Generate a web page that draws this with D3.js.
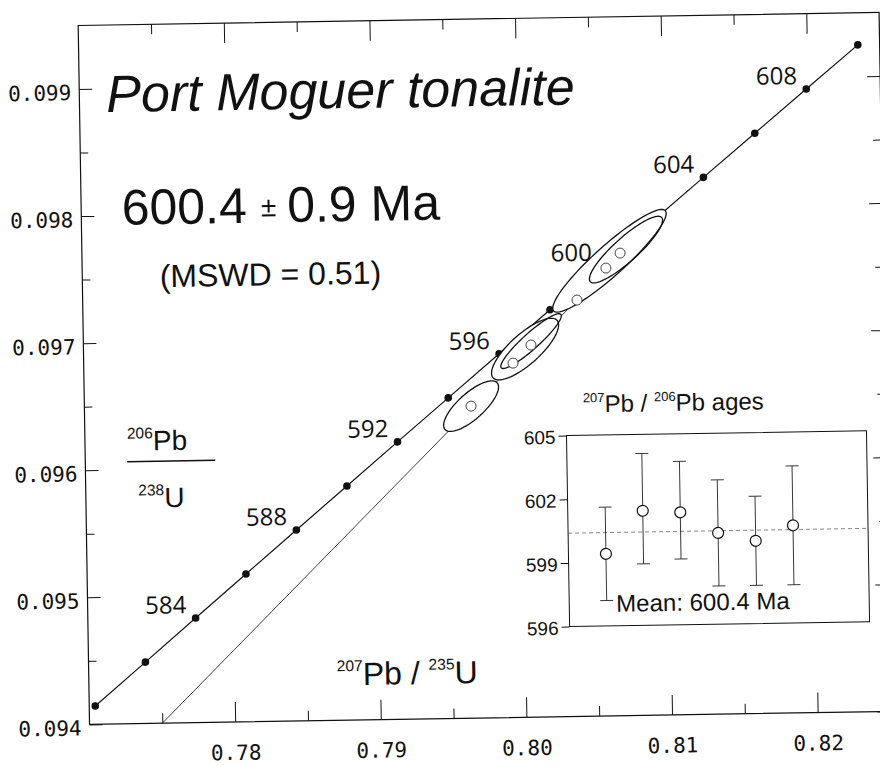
<!DOCTYPE html>
<html>
<head>
<meta charset="utf-8">
<script src="https://cdn.jsdelivr.net/npm/d3@7"></script>
<style>
  body { margin: 0; background: #fff; }
  svg { display: block; background: #fff; }
  .sans { font-family: "Liberation Sans", Arial, sans-serif; fill: #111; }
  .age { font-family: "Open Sans", sans-serif; font-size: 24px; fill: #111; }
</style>
</head>
<body>
<svg id="chart" width="880" height="766"></svg>
<script>
// concordia ages (Ma) and ratios at each dot
var ages = [580, 582, 584, 586, 588, 590, 592, 594, 596, 598, 600, 602, 604, 606, 608, 610];
var concordiaX = [0.770414, 0.773905, 0.777400, 0.780905, 0.784416, 0.787936, 0.791459, 0.794991,
                  0.798532, 0.802076, 0.805630, 0.809191, 0.812756, 0.816332, 0.819913, 0.823504];
var concordiaY = [0.094144, 0.094483, 0.094823, 0.095163, 0.095503, 0.095843, 0.096183, 0.096523,
                  0.096863, 0.097203, 0.097544, 0.097884, 0.098225, 0.098566, 0.098907, 0.099248];
var ageLabels = [584, 588, 592, 596, 600, 604, 608];

// analyses (centres)
var pointX = [0.79655, 0.79948, 0.80073, 0.80394, 0.80596, 0.80695];
var pointY = [0.096455, 0.096788, 0.096928, 0.097276, 0.097524, 0.097640];

// error ellipses: centre, sigma x, sigma y, correlation
var ellX   = [0.79655, 0.80032, 0.80074, 0.806214, 0.80736];
var ellY   = [0.096455, 0.096897, 0.096959, 0.097581, 0.097667];
var ellSx  = [0.001907, 0.002329, 0.002104, 0.003946, 0.002545];
var ellSy  = [0.0001964, 0.0002391, 0.000212, 0.0003971, 0.0002579];
var ellRho = [0.755, 0.780, 0.922, 0.922, 0.881];

// chord towards the origin
var chordX = [0.775, 0.8060];
var chordY = [0.094, 0.09751];

// inset: 207Pb/206Pb ages
var grainAge  = [599.4, 601.4, 601.3, 600.3, 599.9, 600.6];
var grainHigh = [601.6, 604.1, 603.7, 602.8, 602.0, 603.4];
var grainLow  = [597.2, 598.9, 599.1, 597.8, 597.8, 597.8];
var meanAge = 600.4;

// ticks
var xMajor = [0.78, 0.79, 0.80, 0.81, 0.82];
var xMinor = [0.775, 0.785, 0.795, 0.805, 0.815];
var yMajor = [0.094, 0.095, 0.096, 0.097, 0.098, 0.099];
var yMinor = [0.0945, 0.0955, 0.0965, 0.0975, 0.0985];
var insetTicks = [596, 599, 602, 605];

var svg = d3.select("#chart");
svg.append("rect").attr("width", 880).attr("height", 766).attr("fill", "#fff");

// the scanned figure sits slightly tilted
var g = svg.append("g").attr("transform", "rotate(-0.93 480 380)");

// (window.top is taken, hence the prefix)
var plotLeft = 84, plotRight = 885, plotTop = 19, plotBottom = 718;
var x = d3.scaleLinear().domain([0.770, 0.825]).range([plotLeft, plotRight]);
var y = d3.scaleLinear().domain([0.094, 0.0995]).range([plotBottom, plotTop]);

function styleAxis(sel, labels) {
  sel.select(".domain").remove();
  sel.selectAll(".tick line").attr("stroke", "#111").attr("stroke-width", 1);
  sel.attr("font-family", "'DejaVu Sans Mono', monospace").attr("font-size", 21);
  sel.selectAll(".tick text").attr("fill", "#111");
  if (!labels) sel.selectAll(".tick text").remove();
}

g.append("g").attr("transform", "translate(0," + plotBottom + ")")
  .call(d3.axisBottom(x).tickValues(xMajor).tickSize(-20).tickPadding(23).tickFormat(d3.format(".2f")))
  .call(styleAxis, true);
g.append("g").attr("transform", "translate(0," + plotBottom + ")")
  .call(d3.axisBottom(x).tickValues(xMinor).tickSize(-10))
  .call(styleAxis, false);
g.append("g").attr("transform", "translate(0," + plotTop + ")")
  .call(d3.axisTop(x).tickValues(xMajor).tickSize(-20))
  .call(styleAxis, false);
g.append("g").attr("transform", "translate(0," + plotTop + ")")
  .call(d3.axisTop(x).tickValues(xMinor).tickSize(-10))
  .call(styleAxis, false);

var yAxisLeft = g.append("g").attr("transform", "translate(" + plotLeft + ",0)")
  .call(d3.axisLeft(y).tickValues(yMajor).tickSize(-13).tickPadding(8).tickFormat(d3.format(".3f")))
  .call(styleAxis, true);
yAxisLeft.selectAll(".tick text").attr("dy", "0.5em");
g.append("g").attr("transform", "translate(" + plotLeft + ",0)")
  .call(d3.axisLeft(y).tickValues(yMinor).tickSize(-8))
  .call(styleAxis, false);
g.append("g").attr("transform", "translate(" + plotRight + ",0)")
  .call(d3.axisRight(y).tickValues(yMajor).tickSize(-13))
  .call(styleAxis, false);
g.append("g").attr("transform", "translate(" + plotRight + ",0)")
  .call(d3.axisRight(y).tickValues(yMinor).tickSize(-8))
  .call(styleAxis, false);

g.append("rect")
  .attr("x", plotLeft).attr("y", plotTop)
  .attr("width", plotRight - plotLeft).attr("height", plotBottom - plotTop)
  .attr("fill", "none").attr("stroke", "#111").attr("stroke-width", 1.2);

// chord and concordia
g.append("line")
  .attr("x1", x(chordX[0])).attr("y1", y(chordY[0]))
  .attr("x2", x(chordX[1])).attr("y2", y(chordY[1]))
  .attr("stroke", "#111").attr("stroke-width", 0.8);

var concordia = ages.map(function(a, i) { return [concordiaX[i], concordiaY[i]]; });
g.append("path")
  .datum(concordia)
  .attr("d", d3.line().x(function(d) { return x(d[0]); }).y(function(d) { return y(d[1]); }))
  .attr("fill", "none").attr("stroke", "#111").attr("stroke-width", 1.2);

g.selectAll(".dot").data(concordia).enter().append("circle")
  .attr("class", "dot")
  .attr("cx", function(d) { return x(d[0]); })
  .attr("cy", function(d) { return y(d[1]); })
  .attr("r", 3.8).attr("fill", "#111");

// error ellipses, white filled so they hide what runs under them
function ellipsePoints(i) {
  var pts = [];
  var k = Math.sqrt(1 - ellRho[i] * ellRho[i]);
  for (var j = 0; j < 90; j++) {
    var t = j / 90 * 2 * Math.PI;
    pts.push([
      x(ellX[i] + ellSx[i] * Math.cos(t)),
      y(ellY[i] + ellSy[i] * (ellRho[i] * Math.cos(t) + k * Math.sin(t)))
    ]);
  }
  return pts;
}
var ellLine = d3.line().curve(d3.curveLinearClosed);
var ellData = ellX.map(function(d, i) { return ellipsePoints(i); });

g.selectAll(".ell-fill").data(ellData).enter().append("path")
  .attr("class", "ell-fill")
  .attr("d", ellLine)
  .attr("fill", "#fff").attr("stroke", "none");

g.selectAll(".ell").data(ellData).enter().append("path")
  .attr("class", "ell")
  .attr("d", ellLine)
  .attr("fill", "none").attr("stroke", "#111").attr("stroke-width", 1.3);

g.selectAll(".pt").data(pointX).enter().append("circle")
  .attr("class", "pt")
  .attr("cx", function(d) { return x(d); })
  .attr("cy", function(d, i) { return y(pointY[i]); })
  .attr("r", 5).attr("fill", "#fff").attr("stroke", "#333").attr("stroke-width", 0.9);

g.selectAll(".age").data(ageLabels).enter().append("text")
  .attr("class", "age")
  .attr("text-anchor", "end")
  .attr("x", function(a) { return x(concordiaX[ages.indexOf(a)]) - 9; })
  .attr("y", function(a) { return y(concordiaY[ages.indexOf(a)]) - 5; })
  .text(function(a) { return a; });

// titles
g.append("text").attr("class", "sans")
  .attr("x", 111).attr("y", 106)
  .attr("font-size", 52).attr("font-style", "italic")
  .text("Port Moguer tonalite");

var ageText = g.append("text").attr("class", "sans")
  .attr("x", 124.5).attr("y", 219).attr("font-size", 50);
ageText.append("tspan").text("600.4");
ageText.append("tspan").attr("dx", 14).attr("dy", -6).attr("font-size", 28).text("±");
ageText.append("tspan").attr("dx", 11).attr("dy", 6).text("0.9 Ma");

g.append("text").attr("class", "sans")
  .attr("x", 161.5).attr("y", 282).attr("font-size", 32)
  .text("(MSWD = 0.51)");

// y axis label as a fraction
var yNum = g.append("text").attr("class", "sans").attr("x", 126).attr("y", 445).attr("font-size", 28);
yNum.append("tspan").attr("font-size", 15.5).attr("dy", -12).text("206");
yNum.append("tspan").attr("dy", 12).text("Pb");
g.append("line")
  .attr("x1", 126).attr("x2", 214).attr("y1", 456).attr("y2", 456)
  .attr("stroke", "#111").attr("stroke-width", 1.6);
var yDen = g.append("text").attr("class", "sans").attr("x", 136.5).attr("y", 502).attr("font-size", 28);
yDen.append("tspan").attr("font-size", 15.5).attr("dy", -12).text("238");
yDen.append("tspan").attr("dy", 12).text("U");

// x axis label
var xLab = g.append("text").attr("class", "sans").attr("x", 332).attr("y", 683).attr("font-size", 32);
xLab.append("tspan").attr("font-size", 15.6).attr("dy", -14).text("207");
xLab.append("tspan").attr("dy", 14).text("Pb / ");
xLab.append("tspan").attr("font-size", 15.6).attr("dy", -14).text("235");
xLab.append("tspan").attr("dy", 14).text("U");

// inset
var ix = d3.scaleLinear().domain([0, 8]).range([565.6, 865.6]);
var iy = d3.scaleLinear().domain([596, 605]).range([628, 437]);

var inset = g.append("g");
inset.append("rect")
  .attr("x", ix(0)).attr("y", iy(605))
  .attr("width", ix(8) - ix(0)).attr("height", iy(596) - iy(605))
  .attr("fill", "#fff").attr("stroke", "#111").attr("stroke-width", 1);

var insetAxis = inset.append("g").attr("transform", "translate(" + ix(0) + ",0)")
  .call(d3.axisLeft(iy).tickValues(insetTicks).tickSize(8).tickPadding(3));
insetAxis.select(".domain").remove();
insetAxis.attr("font-family", "'Liberation Sans', Arial, sans-serif").attr("font-size", 19);
insetAxis.selectAll(".tick line").attr("stroke", "#111");
insetAxis.selectAll(".tick text").attr("fill", "#111").attr("dy", "0.4em");

inset.append("line")
  .attr("x1", ix(0)).attr("x2", ix(8))
  .attr("y1", iy(meanAge)).attr("y2", iy(meanAge))
  .attr("stroke", "#666").attr("stroke-width", 0.8).attr("stroke-dasharray", "4,3");

var bars = inset.selectAll(".bar").data(grainAge).enter().append("g").attr("class", "bar");
bars.append("line")
  .attr("x1", function(d, i) { return ix(i + 1); })
  .attr("x2", function(d, i) { return ix(i + 1); })
  .attr("y1", function(d, i) { return iy(grainLow[i]); })
  .attr("y2", function(d, i) { return iy(grainHigh[i]); })
  .attr("stroke", "#222").attr("stroke-width", 0.9);
bars.append("line")
  .attr("x1", function(d, i) { return ix(i + 1) - 6.5; })
  .attr("x2", function(d, i) { return ix(i + 1) + 6.5; })
  .attr("y1", function(d, i) { return iy(grainHigh[i]); })
  .attr("y2", function(d, i) { return iy(grainHigh[i]); })
  .attr("stroke", "#222").attr("stroke-width", 0.9);
bars.append("line")
  .attr("x1", function(d, i) { return ix(i + 1) - 6.5; })
  .attr("x2", function(d, i) { return ix(i + 1) + 6.5; })
  .attr("y1", function(d, i) { return iy(grainLow[i]); })
  .attr("y2", function(d, i) { return iy(grainLow[i]); })
  .attr("stroke", "#222").attr("stroke-width", 0.9);
bars.append("circle")
  .attr("cx", function(d, i) { return ix(i + 1); })
  .attr("cy", function(d) { return iy(d); })
  .attr("r", 5.5).attr("fill", "#fff").attr("stroke", "#111").attr("stroke-width", 1.2);

inset.append("text").attr("class", "sans")
  .attr("x", ix(0) + 47).attr("y", iy(596) - 14).attr("font-size", 24)
  .text("Mean: 600.4 Ma");

var insetTitle = inset.append("text").attr("class", "sans").attr("x", 582.5).attr("y", 414).attr("font-size", 24);
insetTitle.append("tspan").attr("font-size", 13).attr("dy", -10).text("207");
insetTitle.append("tspan").attr("dy", 10).text("Pb / ");
insetTitle.append("tspan").attr("font-size", 13).attr("dy", -10).text("206");
insetTitle.append("tspan").attr("dy", 10).text("Pb ages");
</script>
</body>
</html>
